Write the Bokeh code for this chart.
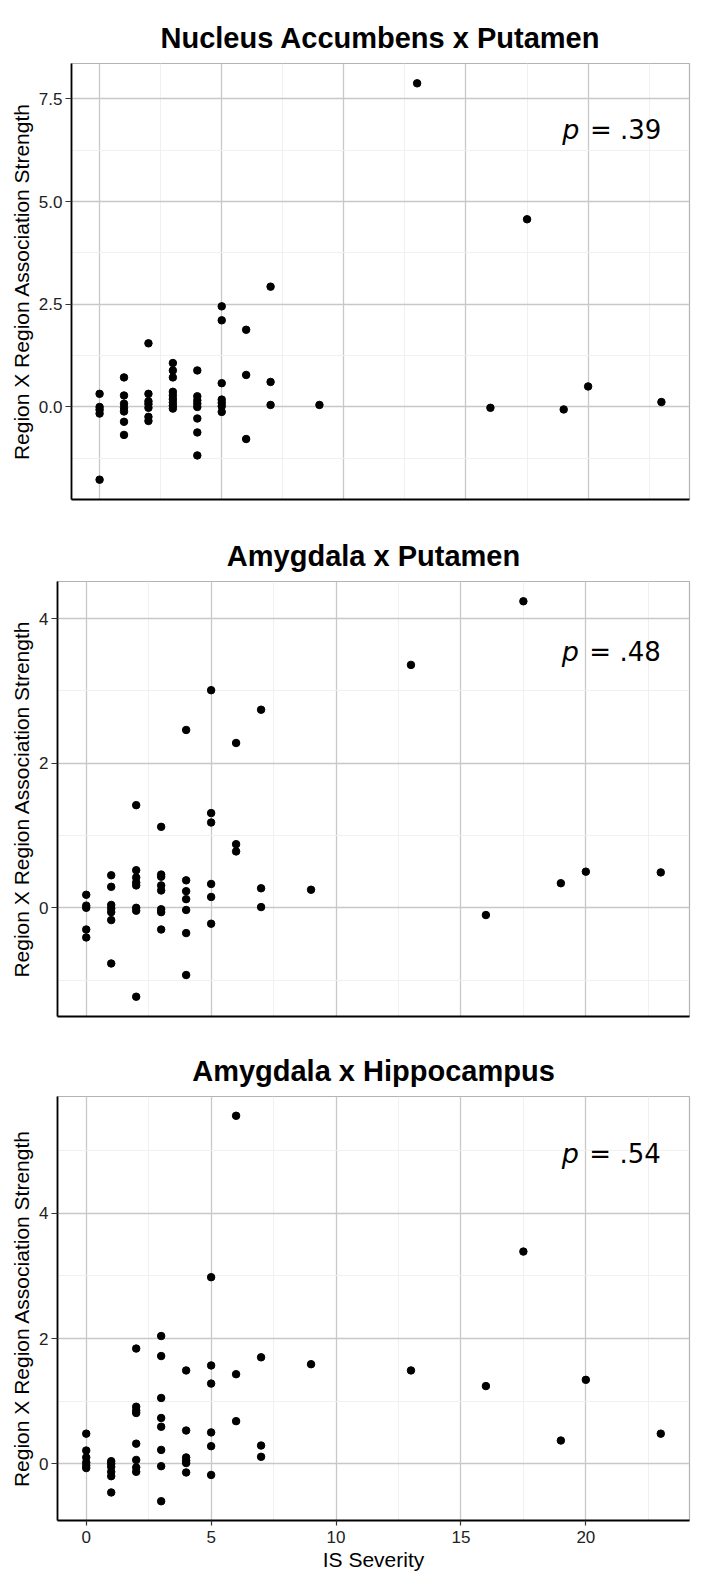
from bokeh.plotting import figure
from bokeh.layouts import column
from bokeh.models import Range1d, FixedTicker, ColumnDataSource
from bokeh.core.properties import value
from bokeh.embed import file_html
from bokeh.resources import INLINE

# ---------------- data ----------------
x_ticks = [0, 5, 10, 15, 20]
x_tick_labels = ["0", "5", "10", "15", "20"]
x_minor = [-2.5, 2.5, 7.5, 12.5, 17.5, 22.5]
x_label = "IS Severity"
y_label = "Region X Region Association Strength"

titles = ["Nucleus Accumbens x Putamen", "Amygdala x Putamen", "Amygdala x Hippocampus"]
p_values = ["= .39", "= .48", "= .54"]
p_value_y = [6.75, 3.54, 4.95]

nap_x = [0, 0, 0, 0, 0,
         1, 1, 1, 1, 1, 1, 1,
         2, 2, 2, 2, 2, 2, 2,
         3, 3, 3, 3, 3, 3, 3, 3, 3,
         4, 4, 4, 4, 4, 4, 4, 4,
         5, 5, 5, 5, 5, 5, 5,
         6, 6, 6,
         7, 7, 7,
         9, 13, 16, 17.5, 19, 20, 23]
nap_y = [0.32, 0.00, -0.07, -0.16, -1.77,
         0.72, 0.28, 0.08, -0.02, -0.11, -0.36, -0.68,
         1.55, 0.32, 0.14, 0.07, -0.02, -0.24, -0.34,
         1.07, 0.89, 0.72, 0.37, 0.28, 0.19, 0.11, 0.03, -0.04,
         0.89, 0.26, 0.16, 0.08, 0.00, -0.28, -0.62, -1.18,
         2.45, 2.11, 0.58, 0.18, 0.10, 0.02, -0.12,
         1.88, 0.78, -0.78,
         2.93, 0.61, 0.05,
         0.05, 7.88, -0.02, 4.57, -0.06, 0.50, 0.12]

amp_x = [0, 0, 0, 0, 0,
         1, 1, 1, 1, 1, 1, 1,
         2, 2, 2, 2, 2, 2, 2, 2,
         3, 3, 3, 3, 3, 3, 3, 3,
         4, 4, 4, 4, 4, 4, 4,
         5, 5, 5, 5, 5, 5,
         6, 6, 6,
         7, 7, 7,
         9, 13, 16, 17.5, 19, 20, 23]
amp_y = [0.18, 0.03, 0.00, -0.30, -0.41,
         0.45, 0.29, 0.04, -0.01, -0.06, -0.17, -0.77,
         1.42, 0.52, 0.42, 0.35, 0.31, 0.00, -0.04, -1.23,
         1.12, 0.46, 0.43, 0.31, 0.24, -0.02, -0.06, -0.30,
         2.46, 0.38, 0.23, 0.12, -0.03, -0.35, -0.93,
         3.01, 1.31, 1.18, 0.33, 0.15, -0.22,
         2.28, 0.88, 0.78,
         2.74, 0.27, 0.01,
         0.25, 3.36, -0.10, 4.24, 0.34, 0.50, 0.49]

amh_x = [0, 0, 0, 0, 0, 0,
         1, 1, 1, 1, 1, 1,
         2, 2, 2, 2, 2, 2, 2, 2,
         3, 3, 3, 3, 3, 3, 3, 3,
         4, 4, 4, 4, 4, 4,
         5, 5, 5, 5, 5, 5,
         6, 6, 6,
         7, 7, 7,
         9, 13, 16, 17.5, 19, 20, 23]
amh_y = [0.48, 0.21, 0.10, 0.02, -0.03, -0.07,
         0.04, 0.00, -0.05, -0.13, -0.20, -0.46,
         1.84, 0.91, 0.85, 0.81, 0.32, 0.06, -0.06, -0.13,
         2.04, 1.72, 1.05, 0.73, 0.59, 0.22, -0.04, -0.60,
         1.49, 0.53, 0.10, 0.05, 0.01, -0.14,
         2.98, 1.57, 1.28, 0.50, 0.28, -0.18,
         5.56, 1.43, 0.68,
         1.70, 0.29, 0.11,
         1.59, 1.49, 1.24, 3.39, 0.37, 1.34, 0.48]

y_ticks_1 = [0, 2.5, 5, 7.5]
y_tick_labels_1 = ["0.0", "2.5", "5.0", "7.5"]
y_minor_1 = [-1.25, 1.25, 3.75, 6.25]
y_ticks_23 = [0, 2, 4]
y_tick_labels_23 = ["0", "2", "4"]
y_minor_23 = [-1, 1, 3, 5]

SANS = "Liberation Sans"


def style_axis(ax):
    ax.axis_line_color = "black"
    ax.axis_line_width = 1.8
    ax.major_tick_line_color = "#333333"
    ax.major_tick_line_width = 1.2
    ax.major_tick_out = 6
    ax.major_tick_in = 0
    ax.minor_tick_out = 0
    ax.minor_tick_in = 0
    ax.major_label_text_font = SANS
    ax.major_label_text_font_size = "17px"
    ax.major_label_text_color = "#222222"
    ax.major_label_standoff = 3
    ax.axis_label_text_font = SANS
    ax.axis_label_text_font_size = "21px"
    ax.axis_label_text_font_style = "normal"
    ax.axis_label_text_color = "black"
    ax.axis_label_standoff = 3


def make_panel(title, xs, ys, yticks, ylabels, yminor, ptext, py, show_x,
               left, top, fw, fh, bottom):
    xmin, xmax = min(xs), max(xs)
    xpad = 0.05 * (xmax - xmin)
    ymin, ymax = min(ys), max(ys)
    ypad = 0.05 * (ymax - ymin)
    p = figure(frame_width=fw, frame_height=fh,
               min_border_left=left, min_border_right=10,
               min_border_top=top, min_border_bottom=bottom,
               x_range=Range1d(xmin - xpad, xmax + xpad),
               y_range=Range1d(ymin - ypad, ymax + ypad),
               output_backend="svg", toolbar_location=None,
               background_fill_color="white", border_fill_color="white")
    p.frame_align = False
    p.title.text = title
    p.title.align = "center"
    p.title.text_font = SANS
    p.title.text_font_size = "29px"
    p.title.text_font_style = "bold"
    p.title.text_color = "black"
    p.title.standoff = 19

    p.outline_line_color = "#b3b3b3"
    p.outline_line_width = 1.2

    grid_x_ticker = FixedTicker(ticks=x_ticks, minor_ticks=x_minor)
    grid_y_ticker = FixedTicker(ticks=yticks, minor_ticks=yminor)
    p.xgrid.ticker = grid_x_ticker
    p.ygrid.ticker = grid_y_ticker
    p.yaxis.ticker = grid_y_ticker
    p.yaxis.major_label_overrides = dict(zip(yticks, ylabels))

    style_axis(p.xaxis[0])
    style_axis(p.yaxis[0])

    p.yaxis.axis_label = y_label
    if show_x:
        p.xaxis.ticker = grid_x_ticker
        p.xaxis.major_label_overrides = dict(zip(x_ticks, x_tick_labels))
        p.xaxis.axis_label = x_label
        p.xaxis.major_tick_out = 5
        p.xaxis.major_label_standoff = 5
        p.xaxis.axis_label_standoff = 2
    else:
        p.xaxis.ticker = FixedTicker(ticks=[], minor_ticks=[])
        p.xaxis.major_tick_out = 0
        p.xaxis.major_label_standoff = 0

    for g in (p.xgrid[0], p.ygrid[0]):
        g.grid_line_color = "#c8c8c8"
        g.grid_line_width = 1.3
        g.minor_grid_line_color = "#f0f0f0"
        g.minor_grid_line_width = 1.0

    src = ColumnDataSource(dict(x=xs, y=ys))
    p.scatter("x", "y", source=src, size=7.5, color="black")

    p.text(x=[23], y=[py], text=[ptext], text_font=value("DejaVu Sans"),
           text_font_size="26px", text_align="right",
           text_baseline="alphabetic", text_color="black")
    p.text(x=[23], y=[py], text=["p"], text_font=value("DejaVu Sans"),
           text_font_size="27px", text_font_style="italic", text_align="right",
           text_baseline="alphabetic", text_color="black", x_offset=-82)
    return p


p1 = make_panel(titles[0], nap_x, nap_y, y_ticks_1, y_tick_labels_1, y_minor_1,
                p_values[0], p_value_y[0], False, 71, 63, 618, 436, 16)
p2 = make_panel(titles[1], amp_x, amp_y, y_ticks_23, y_tick_labels_23, y_minor_23,
                p_values[1], p_value_y[1], False, 57, 66, 632, 435, 16)
p3 = make_panel(titles[2], amh_x, amh_y, y_ticks_23, y_tick_labels_23, y_minor_23,
                p_values[2], p_value_y[2], True, 57, 64, 632, 424, 54)

layout = column(p1, p2, p3)
open("out.html", "w").write(file_html(layout, INLINE))
